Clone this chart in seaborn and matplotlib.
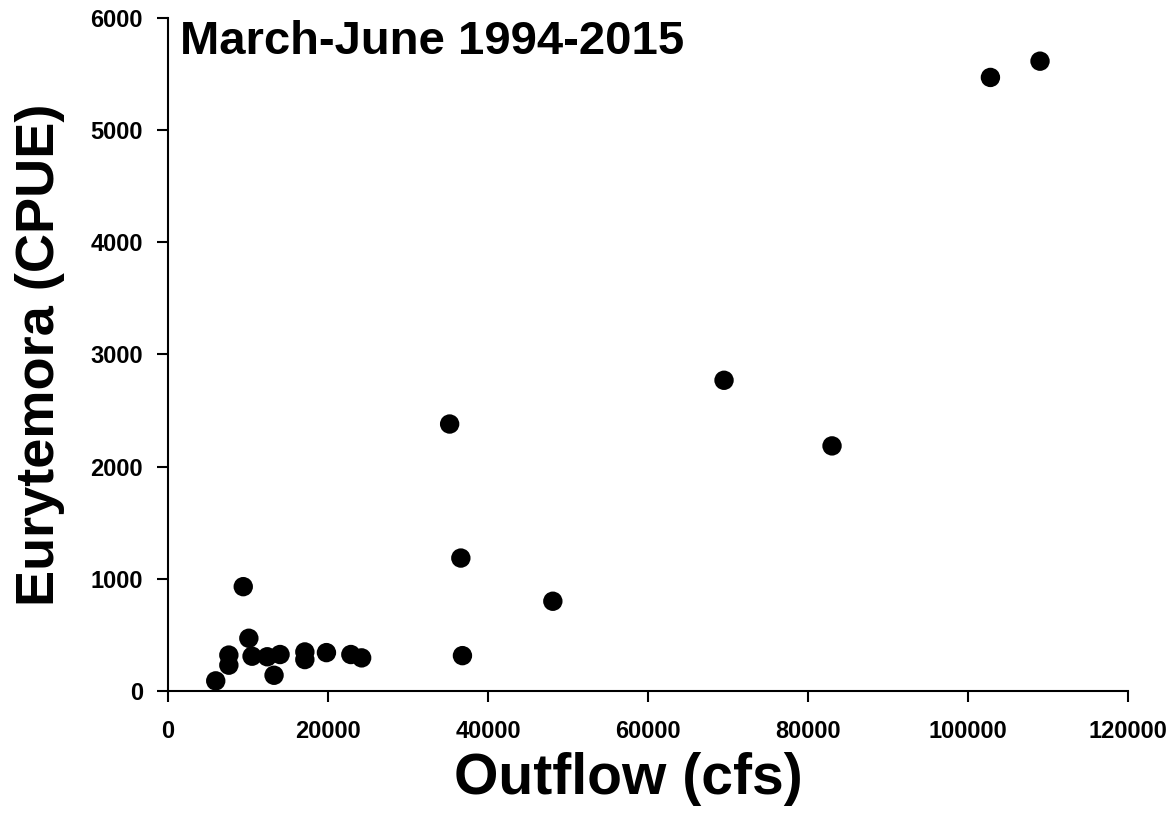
import matplotlib
matplotlib.use("Agg")
import matplotlib.pyplot as plt
import seaborn as sns
import pandas as pd

# one point per year, 1994-2015
outflow = [5960, 7600, 7600, 9400, 10100, 10500, 12400, 13250, 14000,
           17100, 17100, 19800, 22850, 24200, 35200, 36600, 36800, 48100,
           69500, 83000, 102800, 109000]
cpue = [90, 230, 320, 930, 470, 310, 305, 140, 325,
        348, 280, 342, 325, 295, 2380, 1185, 315, 800,
        2770, 2185, 5470, 5615]
x_ticks = [0, 20000, 40000, 60000, 80000, 100000, 120000]
y_ticks = [0, 1000, 2000, 3000, 4000, 5000, 6000]

sns.set_style("ticks")
plt.rcParams['font.family'] = ['Liberation Sans', 'DejaVu Sans']
plt.rcParams['font.weight'] = 'bold'
plt.rcParams['text.color'] = 'black'
plt.rcParams['axes.labelcolor'] = 'black'
plt.rcParams['xtick.color'] = 'black'
plt.rcParams['ytick.color'] = 'black'

df = pd.DataFrame({"Outflow": outflow, "CPUE": cpue})

fig, ax = plt.subplots(figsize=(11.76, 8.33), dpi=100)
plt.subplots_adjust(left=0.1429, right=0.9592, bottom=0.1705, top=0.9784)

sns.scatterplot(data=df, x="Outflow", y="CPUE", ax=ax, color="black",
                s=195, edgecolor="none", linewidth=0, zorder=3)

ax.set_xlim(0, 120000)
ax.set_ylim(0, 6000)
ax.set_xticks(x_ticks)
ax.set_yticks(y_ticks)
ax.set_xticklabels([str(t) for t in x_ticks], fontsize=17, fontweight='bold')
ax.set_yticklabels([str(t) for t in y_ticks], fontsize=17, fontweight='bold')
ax.tick_params(axis='both', direction='out', length=8, width=1.5)
ax.tick_params(axis='x', pad=13)
ax.tick_params(axis='y', pad=10)

for side in ["top", "right"]:
    ax.spines[side].set_visible(False)
for side in ["left", "bottom"]:
    ax.spines[side].set_linewidth(1.5)
    ax.spines[side].set_color('black')

ax.set_xlabel("Outflow (cfs)", fontsize=41, fontweight='bold')
ax.xaxis.set_label_coords(0.48, -0.09)
ax.set_ylabel("Eurytemora (CPUE)", fontsize=39, fontweight='bold', labelpad=18)

ax.text(0.012, 0.997, "March-June 1994-2015", transform=ax.transAxes,
        fontsize=34, fontweight='bold', ha='left', va='top')

fig.savefig("out.png", dpi=100)
